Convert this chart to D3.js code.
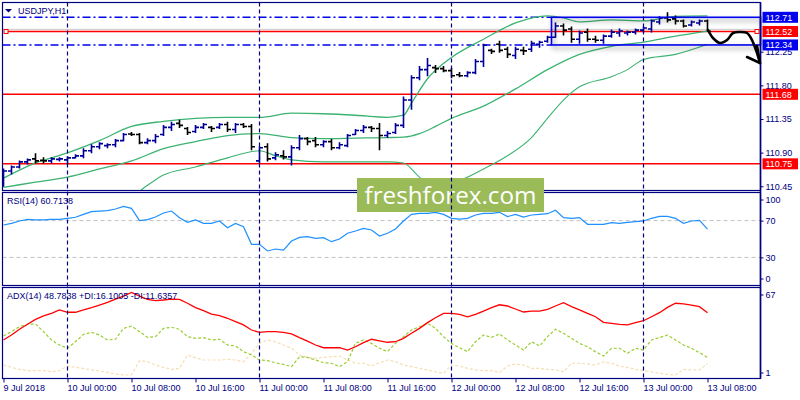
<!DOCTYPE html>
<html><head><meta charset="utf-8">
<script src="https://cdn.jsdelivr.net/npm/d3@7"></script>
<style>body{margin:0;background:#fff}svg{display:block}</style>
</head><body><svg id="c" width="800" height="400"></svg>
<script>
// ---------- DATA ----------
const opens=[110.491,110.654,110.708,110.776,110.816,110.796,110.789,110.809,110.803,110.830,
110.857,110.925,110.979,110.993,111.006,111.060,111.148,111.142,111.033,111.060,
111.142,111.237,111.291,111.223,111.182,111.237,111.237,111.237,111.277,111.210,
111.277,111.250,110.789,110.979,110.830,110.857,110.843,110.965,111.087,111.060,
111.006,111.047,110.965,110.993,111.142,111.196,111.237,111.223,111.128,111.169,
111.264,111.603,111.902,112.010,112.037,112.024,111.997,111.942,111.929,111.970,
112.119,112.268,112.349,112.282,112.200,112.268,112.282,112.349,112.390,112.444,
112.594,112.553,112.417,112.512,112.417,112.404,112.458,112.499,112.499,112.512,
112.539,112.553,112.648,112.702,112.689,112.661,112.607,112.634,112.661];
const highs=[110.681,110.721,110.789,110.816,110.884,110.830,110.830,110.830,110.843,110.870,
110.952,111.006,111.033,111.020,111.074,111.155,111.169,111.155,111.087,111.142,
111.264,111.305,111.332,111.237,111.264,111.291,111.250,111.291,111.305,111.291,
111.291,111.277,110.979,111.020,110.898,110.925,110.993,111.128,111.101,111.101,
111.060,111.074,111.033,111.142,111.210,111.264,111.250,111.291,111.182,111.291,
111.644,111.929,112.051,112.159,112.065,112.051,112.024,111.970,111.983,112.146,
112.349,112.282,112.390,112.309,112.309,112.309,112.390,112.390,112.458,112.634,
112.621,112.580,112.526,112.553,112.458,112.472,112.539,112.553,112.526,112.553,
112.580,112.675,112.716,112.770,112.729,112.675,112.661,112.675,112.675];
const lows=[110.450,110.613,110.694,110.748,110.762,110.762,110.762,110.789,110.748,110.830,
110.830,110.898,110.952,110.965,110.979,111.060,111.128,111.020,111.020,111.033,
111.128,111.196,111.237,111.142,111.169,111.223,111.182,111.223,111.182,111.169,
111.237,110.938,110.762,110.789,110.803,110.816,110.735,110.938,111.006,110.979,
110.979,110.938,110.952,110.979,111.142,111.169,111.182,110.938,111.101,111.155,
111.237,111.481,111.875,111.929,111.970,111.983,111.902,111.915,111.915,111.956,
112.051,112.227,112.241,112.173,112.159,112.214,112.254,112.309,112.377,112.444,
112.472,112.377,112.363,112.390,112.377,112.363,112.444,112.458,112.472,112.485,
112.512,112.512,112.621,112.648,112.621,112.580,112.594,112.607,112.526];
const closes=[110.654,110.708,110.776,110.803,110.789,110.789,110.816,110.816,110.830,110.857,
110.925,110.979,111.020,111.006,111.060,111.142,111.142,111.033,111.060,111.115,
111.237,111.277,111.264,111.169,111.237,111.277,111.223,111.277,111.210,111.277,
111.250,110.979,110.965,110.816,110.870,110.843,110.965,111.087,111.047,111.006,
111.047,110.965,111.006,111.128,111.196,111.237,111.223,111.128,111.155,111.264,
111.603,111.902,112.010,112.065,112.024,111.997,111.929,111.929,111.970,112.119,
112.336,112.254,112.268,112.214,112.282,112.261,112.363,112.377,112.444,112.594,
112.539,112.417,112.499,112.417,112.404,112.458,112.512,112.526,112.512,112.539,
112.567,112.661,112.702,112.675,112.661,112.594,112.648,112.661,112.523];

const bbUpperIdx=[0,4,8,12,16,20,24,28,32,36,40,44,48,50,51,53,56,60,64,68,70,72,76,80,84,88];
const bbUpper=[110.558,110.762,110.897,111.060,111.250,111.318,111.359,111.372,111.372,111.427,111.420,111.400,111.372,111.400,111.563,111.888,112.173,112.417,112.634,112.729,112.702,112.648,112.675,112.661,112.723,112.729];
const bbMidIdx=[0,4,8,12,16,20,24,28,32,36,40,44,48,50,52,54,56,60,64,68,72,76,80,84,88];
const bbMid=[110.436,110.504,110.572,110.681,110.789,110.952,111.047,111.128,111.155,111.101,111.087,111.094,111.101,111.108,111.155,111.250,111.359,111.522,111.752,112.010,112.214,112.322,112.377,112.458,112.526];
const bbLowerIdx=[12,16,18,20,24,28,32,34,36,40,44,48,50,52,54,56,60,63,66,68,70,72,76,78,80,84,88];
const bbLower=[110.302,110.328,110.464,110.599,110.708,110.830,110.925,110.857,110.803,110.776,110.776,110.776,110.762,110.572,110.463,110.490,110.681,110.857,111.101,111.359,111.603,111.780,111.915,112.010,112.146,112.214,112.349];

const rsi=[65.2,67,69.6,71.4,70.7,70.7,71.4,71.4,72.5,73.6,
76.8,79.7,80.4,80.8,82.6,85.5,83.3,69.9,71,73.9,
78.3,80.4,73.2,68.1,70.7,67,67,69.6,62.3,67,
63.4,44.2,44.2,37,39.1,38,47.8,51.8,52.5,50.7,
51.4,47.1,50,56.2,58.7,61.6,59.8,53.3,56.2,60.9,
69.6,76.8,77.9,77.9,79,76.8,72.5,71.7,72.5,76.1,
77.9,77.9,79,74.3,76.8,73.9,76.1,76.8,77.5,81.2,
73.2,72.5,73.2,66,66,66,67.8,67,68.1,68.8,
69.6,72.5,74.6,74.6,72.5,67,69.6,70.3,60.7];
const adx=[28.9,32.5,36.7,40.4,44,46.5,48.4,50.9,49.2,49.2,
50.9,52.6,54.5,56.5,58.9,61.1,63.8,61.1,58.7,57.7,
58.2,58.9,58.7,55.8,52.6,50.4,47.9,46.7,44.8,42.3,
39.9,36.2,34.5,35,35,34.5,33.3,30.6,28.1,25.2,
23.2,23.2,23.2,21.5,23.9,26.9,29.4,28.3,27.2,27.6,
30.1,33.8,37.4,41.6,45.2,48.4,48.4,47.7,45.9,47.7,
50.1,52.6,54.7,53.8,51.6,49.4,50.1,50.1,51.4,53.8,
56.2,53.3,50.9,48.4,45.9,41.8,41.1,40.4,39.9,41.6,
43,45.9,48.9,52.8,55.8,55.3,54.5,53.3,48.8];
const plusDI=[31.8,35,38.6,40.4,40.6,35,28.9,25.2,22.8,27.6,
33,34.5,32.5,28.9,29.4,37.4,39.1,35,30.8,31.3,
37.4,38.2,36.7,31.3,30.1,30.6,28.9,29.4,25.2,24.5,
20.3,17.9,14.2,13.7,12.2,11,9.3,16.6,16.1,14.2,
12.2,11.8,9.3,13,26.4,28.9,26.4,22.8,20.3,26.4,
31.3,36.2,38.6,41.1,37.4,31.3,26.4,23.2,20.3,27.6,
32.5,30.8,33.3,28.9,25.2,21.5,27.6,24.5,31.3,36.7,
33.8,30.1,26.4,23.9,20.3,17.1,22.8,22.8,19.1,22.8,
21.5,28.9,30.6,32.5,28.9,25.2,22.8,19.6,16.1];
const minusDI=[10.5,8.8,7.3,6.4,6.4,6.4,5.6,6.4,9.8,8.8,
8.1,6.9,6.1,5.2,3.9,3.2,3.2,13.7,12.9,10.5,
8.8,7.3,8.1,17.9,15.9,14.2,14.2,14.2,14.7,14.2,
12.9,19.1,26.4,28.9,27.6,25.2,22.8,17.9,16.1,15.4,
16.1,16.6,17.1,14.2,11.8,11.8,9.8,12.2,14.2,12.9,
10.5,9.3,8.1,6.9,5.6,4.4,10.5,9.8,8.1,6.9,
6.4,6.4,4.9,9.8,11.3,10.5,8.1,8.1,7.3,6.9,
5.6,11.8,11.8,11.3,10.5,12.9,11.8,9.8,8.8,7.3,
6.4,5.6,4.4,3.7,3.2,7.3,6.9,6.9,11.6];

const timeIdx=[0,8,16,24,32,40,48,56,64,72,80,88];
const timeLabels=["9 Jul 2018","10 Jul 00:00","10 Jul 08:00","10 Jul 16:00","11 Jul 00:00","11 Jul 08:00","11 Jul 16:00","12 Jul 00:00","12 Jul 08:00","12 Jul 16:00","13 Jul 00:00","13 Jul 08:00"];
const daySepIdx=[8,32,56,80];
const priceTicks=[112.25,111.80,111.35,110.90,110.45];
const rsiTicks=[100,70,30,0];
const rsiLevels=[70,30];
const adxTicks=[67,1];
const supportLevels=[111.68,110.75];
const boxLevels=[112.71,112.34];
const lastPrice=112.52;
const askPrice=112.549;
const boxStartIdx=68.5;
const arrowPts=[[88.06,112.540],[88.69,112.433],[89.56,112.366],[90.44,112.406],[91.19,112.500],[92.06,112.513],[92.94,112.500],[93.56,112.406],[94.19,112.232],[94.56,112.099]];
const arrowHead=[[92.94,112.179],[94.56,112.099],[94.19,112.326]];

// ---------- LAYOUT ----------
const L=2.5,R=760.5;
const mainTop=2.5,mainBot=190.5,rsiTop=192.5,rsiBot=285.5,adxTop=287.5,adxBot=378.5;
const NAVY="#000080", UP="#000099", FONT='"Liberation Sans",Arial,sans-serif';

const svg=d3.select('#c');
const x=d3.scaleLinear().domain([0,88]).range([3.5,707.5]);
const yP=d3.scaleLinear().domain([111.68,112.71]).range([94.3,17.3]);
const yR=d3.scaleLinear().domain([0,100]).range([285,193]);
const yA=d3.scaleLinear().domain([1,67]).range([378,288]);

const defs=svg.append('defs');
[['cm',mainTop,mainBot],['cr',rsiTop,rsiBot],['ca',adxTop,adxBot]].forEach(([id,t,b])=>{
  defs.append('clipPath').attr('id',id).append('rect').attr('x',L).attr('y',t).attr('width',R-L).attr('height',b-t);
});
const f=defs.append('filter').attr('id','sh').attr('x','-10%').attr('y','-60%').attr('width','120%').attr('height','220%');
f.append('feDropShadow').attr('dx',2).attr('dy',3).attr('stdDeviation',2.5).attr('flood-color','#000').attr('flood-opacity',0.45);

svg.append('rect').attr('width',800).attr('height',400).attr('fill','#fff');

// ---------- MAIN PANEL ----------
const gm=svg.append('g').attr('clip-path','url(#cm)');
gm.selectAll('.sup').data(supportLevels).enter().append('line')
  .attr('x1',L).attr('x2',R).attr('y1',d=>yP(d)).attr('y2',d=>yP(d))
  .attr('stroke','#ff0000').attr('stroke-width',1.6);
gm.append('line').attr('x1',L).attr('x2',R).attr('y1',yP(askPrice)).attr('y2',yP(askPrice))
  .attr('stroke','#c8c8c8').attr('stroke-width',1);
gm.append('line').attr('x1',7.5).attr('x2',755).attr('y1',yP(lastPrice)).attr('y2',yP(lastPrice))
  .attr('stroke','#ff0000').attr('stroke-width',1.6);
gm.selectAll('.dd').data(boxLevels).enter().append('line')
  .attr('x1',L).attr('x2',x(boxStartIdx)).attr('y1',d=>yP(d)).attr('y2',d=>yP(d))
  .attr('stroke','#0000ee').attr('stroke-width',1.5).attr('stroke-dasharray','8,3,2,3');

const bandLine=(idx)=>d3.line().x((d,i)=>x(idx[i])).y(d=>yP(d)).curve(d3.curveMonotoneX);
[[bbUpperIdx,bbUpper,1.3],[bbMidIdx,bbMid,1.3],[bbLowerIdx,bbLower,1.1]].forEach(([idx,v,w])=>{
  gm.append('path').attr('d',bandLine(idx)(v)).attr('fill','none').attr('stroke','#3cb371').attr('stroke-width',w);
});

const bars=gm.selectAll('.bar').data(d3.range(opens.length)).enter().append('g')
  .attr('stroke',i=>closes[i]>opens[i]?UP:'#000').attr('stroke-width',1.6);
bars.append('line').attr('x1',i=>x(i)).attr('x2',i=>x(i)).attr('y1',i=>yP(highs[i])-0.5).attr('y2',i=>yP(lows[i])+0.5);
bars.append('line').attr('x1',i=>x(i)-3.5).attr('x2',i=>x(i)).attr('y1',i=>yP(opens[i])).attr('y2',i=>yP(opens[i]));
bars.append('line').attr('x1',i=>x(i)).attr('x2',i=>x(i)+3.5).attr('y1',i=>yP(closes[i])).attr('y2',i=>yP(closes[i]));

svg.append('rect').attr('x',x(boxStartIdx)).attr('y',yP(boxLevels[0]))
  .attr('width',R-x(boxStartIdx)).attr('height',yP(boxLevels[1])-yP(boxLevels[0]))
  .attr('fill','none').attr('stroke','#0000ee').attr('stroke-width',1.6).attr('filter','url(#sh)');

// ---------- RSI PANEL ----------
const gr=svg.append('g').attr('clip-path','url(#cr)');
gr.selectAll('.rl').data(rsiLevels).enter().append('line')
  .attr('x1',L).attr('x2',R).attr('y1',d=>yR(d)).attr('y2',d=>yR(d))
  .attr('stroke','#c0c0c0').attr('stroke-dasharray','4,3');
gr.append('path').attr('d',d3.line().x((d,i)=>x(i)).y(d=>yR(d))(rsi))
  .attr('fill','none').attr('stroke','#1e90ff').attr('stroke-width',1.2);

// ---------- ADX PANEL ----------
const ga=svg.append('g').attr('clip-path','url(#ca)');
const al=d3.line().x((d,i)=>x(i)).y(d=>yA(d));
ga.append('path').attr('d',al(minusDI)).attr('fill','none').attr('stroke','#f5deb3').attr('stroke-width',1.2).attr('stroke-dasharray','3,2');
ga.append('path').attr('d',al(plusDI)).attr('fill','none').attr('stroke','#9acd32').attr('stroke-width',1.2).attr('stroke-dasharray','3,2');
ga.append('path').attr('d',al(adx)).attr('fill','none').attr('stroke','#ff0000').attr('stroke-width',1.3);

// ---------- BORDERS ----------
[[mainTop,mainBot],[rsiTop,rsiBot],[adxTop,adxBot]].forEach(([t,b])=>{
  svg.append('rect').attr('x',L).attr('y',t).attr('width',R-L).attr('height',b-t)
    .attr('fill','none').attr('stroke',NAVY).attr('stroke-width',1.2);
});

// ---------- WATERMARK ----------
svg.append('rect').attr('x',357).attr('y',178).attr('width',187).attr('height',34).attr('fill','#9bbb59');
svg.append('text').attr('x',450.5).attr('y',204).attr('text-anchor','middle')
  .attr('font-family','"Open Sans",sans-serif').attr('font-size',24).attr('fill','#fff')
  .attr('textLength',172).attr('lengthAdjust','spacingAndGlyphs').text('freshforex.com');

// ---------- DAY SEPARATORS ----------
svg.selectAll('.sep').data(daySepIdx).enter().append('line')
  .attr('x1',d=>x(d)).attr('x2',d=>x(d)).attr('y1',mainTop).attr('y2',adxBot)
  .attr('stroke',NAVY).attr('stroke-width',1.2).attr('stroke-dasharray','4,3');

// ---------- AXES ----------
function styleAxis(g){
  g.select('.domain').remove();
  g.selectAll('line').attr('stroke',NAVY);
  g.selectAll('text').attr('fill',NAVY).attr('font-family',FONT).attr('font-size',9);
}
svg.append('g').attr('transform',`translate(${R},0)`)
  .call(d3.axisRight(yP).tickValues(priceTicks).tickFormat(d3.format('.2f')).tickSize(3).tickPadding(2))
  .call(styleAxis);
const ra=svg.append('g').attr('transform',`translate(${R},0)`)
  .call(d3.axisRight(yR).tickValues(rsiTicks).tickSize(3).tickPadding(2)).call(styleAxis);
ra.selectAll('.tick').filter(d=>d===100).attr('transform',`translate(0,${yR(100)+7})`);
ra.selectAll('.tick').filter(d=>d===0).attr('transform',`translate(0,${yR(0)-6})`);
const aa=svg.append('g').attr('transform',`translate(${R},0)`)
  .call(d3.axisRight(yA).tickValues(adxTicks).tickSize(3).tickPadding(2)).call(styleAxis);
aa.selectAll('.tick').filter(d=>d===67).attr('transform',`translate(0,${yA(67)+7})`);
aa.selectAll('.tick').filter(d=>d===1).attr('transform',`translate(0,${yA(1)-5})`);
const ta=svg.append('g').attr('transform',`translate(0,${adxBot})`)
  .call(d3.axisBottom(x).tickValues(timeIdx).tickFormat((d,i)=>timeLabels[i]).tickSize(4).tickPadding(2))
  .call(styleAxis);
ta.selectAll('text').attr('text-anchor','start').attr('x',-0.5);
svg.append('line').attr('x1',R).attr('x2',R).attr('y1',mainTop).attr('y2',adxBot).attr('stroke',NAVY).attr('stroke-width',1.6);

// ---------- LEVEL LABEL BOXES ----------
const levelVals=[boxLevels[0],lastPrice,boxLevels[1],supportLevels[0],supportLevels[1]];
const levelCols=['#0000ee','#ff0000','#0000ee','#ff0000','#ff0000'];
const lb=svg.selectAll('.lb').data(levelVals).enter().append('g')
  .attr('transform',d=>`translate(762,${yP(d)})`);
lb.append('rect').attr('x',0.5).attr('y',-5.5).attr('width',35.5).attr('height',11).attr('fill',(d,i)=>levelCols[i]);
lb.append('text').attr('x',3.5).attr('y',3.3).attr('fill','#fff').attr('font-family',FONT).attr('font-size',9)
  .text(d=>d3.format('.2f')(d));

// small anchor squares on the price line
[4,755].forEach(px=>{
  svg.append('rect').attr('x',px).attr('y',yP(lastPrice)-2).attr('width',4).attr('height',4)
    .attr('fill','#fff').attr('stroke','#ff0000').attr('stroke-width',1);
});

// ---------- ARROW ----------
const ap=d3.line().x(d=>x(d[0])).y(d=>yP(d[1])).curve(d3.curveCatmullRom);
svg.append('path').attr('d',ap(arrowPts)).attr('fill','none').attr('stroke','#000').attr('stroke-width',2.6)
  .attr('stroke-linecap','round').attr('stroke-linejoin','round');
svg.append('path').attr('d',d3.line().x(d=>x(d[0])).y(d=>yP(d[1]))(arrowHead)).attr('fill','none')
  .attr('stroke','#000').attr('stroke-width',2.6).attr('stroke-linecap','round').attr('stroke-linejoin','round');

// ---------- TITLES ----------
svg.append('path').attr('d','M5,9L12,9L8.5,12.5Z').attr('fill',NAVY);
const t=(tx,ty,s)=>svg.append('text').attr('x',tx).attr('y',ty).attr('fill',NAVY).attr('font-family',FONT).attr('font-size',9).text(s);
t(18,14,'USDJPY,H1');
t(7,204.3,'RSI(14) 60.7138');
t(7,299.3,'ADX(14) 48.7838 +DI:16.1005 -DI:11.6357');
</script></body></html>
